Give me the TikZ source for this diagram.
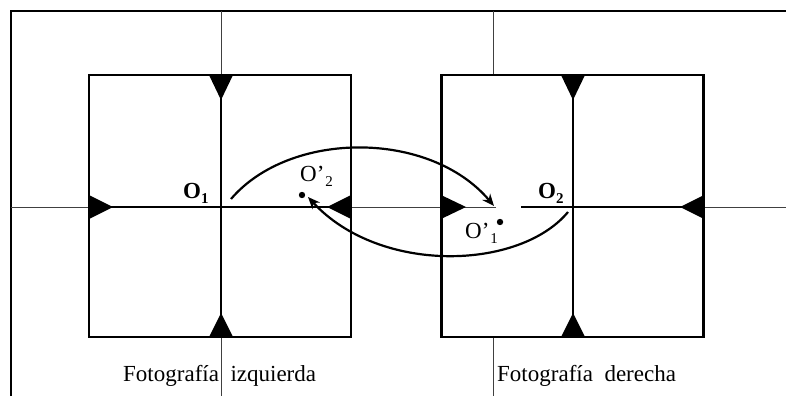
\documentclass[tikz,border=0pt]{standalone}
\usepackage{fontspec}
\setmainfont{Liberation Serif}
\usetikzlibrary{arrows.meta}
\newcommand{\sbs}[1]{\raisebox{-5pt}{\fontsize{15}{15}\selectfont #1}}
\begin{document}
\begin{tikzpicture}[x=1pt,y=-1pt,
  frame/.style={line width=2pt},
  thinline/.style={line width=0.8pt, black!75},
  photo/.style={draw, line width=2.2pt, fill=white, inner sep=0pt, minimum width=262pt, minimum height=262pt},
  axis/.style={line width=1.3pt},
  tri/.style={fill=black},
  arcline/.style={line width=2.2pt, -{Stealth[length=12pt,width=10pt]}},
  lbl/.style={inner sep=0pt, anchor=base west, font=\fontsize{23}{26}\selectfont},
  dotmark/.style={fill=black},
]
\useasboundingbox (0,0) rectangle (786,396);
% outer frame (left and top)
\draw[frame] (11,396) -- (11,11) -- (786,11);
% thin reference lines
\draw[thinline] (221,11) -- (221,396);
\draw[thinline] (493,11) -- (493,396);
\draw[thinline] (11,207) -- (786,207);
% photographs
\node[photo] (L) at (220,206) {};
\node[photo] (R) at (572.5,206) {};
% axes inside photos
\draw[axis] (221,75) -- (221,337);
\draw[axis] (89,207) -- (351,207);
\draw[axis] (573,75) -- (573,337);
\draw[thinline] (441,207) -- (496,207);
\draw[axis] (521,207) -- (704,207);
% fiducial marks, left photo
\fill[tri] (209,75) -- (233,75) -- (221,100) -- cycle;
\fill[tri] (209,337) -- (233,337) -- (221,313) -- cycle;
\fill[tri] (89,195) -- (89,219) -- (113,207) -- cycle;
\fill[tri] (351,195) -- (351,219) -- (327,207) -- cycle;
% fiducial marks, right photo
\fill[tri] (561,75) -- (585,75) -- (573,100) -- cycle;
\fill[tri] (561,337) -- (585,337) -- (573,313) -- cycle;
\fill[tri] (441,195) -- (441,219) -- (466,207) -- cycle;
\fill[tri] (704,195) -- (704,219) -- (680,207) -- cycle;
% points
\coordinate (p2) at (302,195);
\coordinate (p1) at (500,222);
\fill[dotmark] (p2) circle (3.2);
\fill[dotmark] (p1) circle (3.2);
% labels
\node[lbl] (o1) at (183,198) {\bfseries O\sbs{1}};
\node[lbl] (o2) at (538,198) {\bfseries O\sbs{2}};
\node[lbl] (op2) at (300,181) {O’\kern1pt\sbs{2}};
\node[lbl] (op1) at (465,238) {O’\kern1pt\sbs{1}};
\node[lbl] (tl) at (123,381) {Fotografía\ \ izquierda};
\node[lbl] (tr) at (497,381) {Fotografía\ \ derecha};
% transfer arcs
\coordinate (a1s) at (231,199);
\coordinate (a1e) at (494,206);
\coordinate (a2s) at (568,212);
\coordinate (a2e) at (308,197);
\draw[arcline] (a1s) .. controls (290,130) and (430,130) .. (a1e);
\draw[arcline] (a2s) .. controls (520,270) and (380,275) .. (a2e);
\end{tikzpicture}
\end{document}
